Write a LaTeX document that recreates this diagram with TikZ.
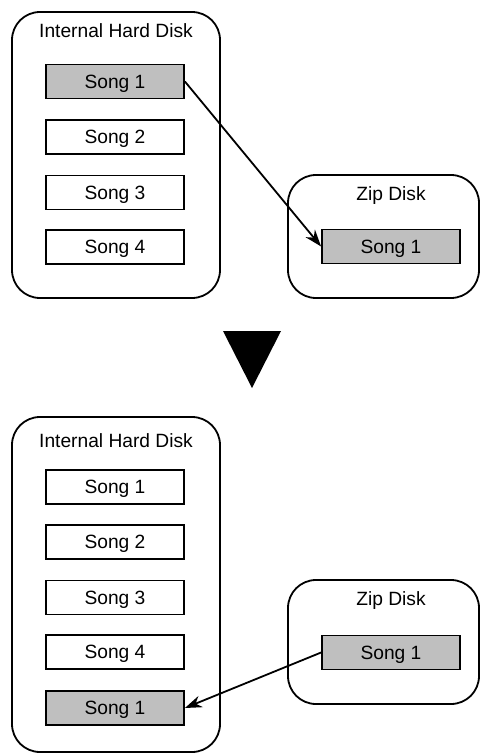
\documentclass[tikz,border=0pt]{standalone}
\usepackage{fontspec}
\setmainfont{Liberation Sans}
\usetikzlibrary{arrows.meta}
\begin{document}
\begin{tikzpicture}[x=1pt,y=-1pt,
  container/.style={draw,line width=1.8pt,rounded corners=28pt,inner sep=0pt},
  songbox/.style={draw,line width=1.8pt,minimum width=138pt,minimum height=34pt,inner sep=0pt,
    text height=13.7pt,text depth=0pt,font=\fontsize{19.2pt}{22pt}\selectfont},
  copied/.style={songbox,fill=black!25},
  title/.style={anchor=base,inner sep=0pt,font=\fontsize{19.2pt}{22pt}\selectfont},
  move/.style={line width=1.8pt,-{Stealth[length=17pt,width=12pt]}}]
\useasboundingbox (0,0) rectangle (485,754);
% top diagram
\node[container,minimum width=208pt,minimum height=286pt] (hd1) at (116,155) {};
\node[title] (hd1t) at (116,38) {Internal Hard Disk};
\node[copied] (a1) at (115,81.5) {Song 1};
\node[songbox] (a2) at (115,137) {Song 2};
\node[songbox] (a3) at (115,192.5) {Song 3};
\node[songbox] (a4) at (115,247) {Song 4};
\node[container,minimum width=191pt,minimum height=123pt] (zip1) at (383.5,236.5) {};
\node[title] (zip1t) at (391,200) {Zip Disk};
\node[copied] (z1) at (391,246.5) {Song 1};
\draw[move] (a1.east) -- (z1.west);
% down triangle
\fill (223,331) -- (281,331) -- (252,388) -- cycle;
% bottom diagram
\node[container,minimum width=208pt,minimum height=335pt] (hd2) at (116,584.5) {};
\node[title] (hd2t) at (116,447) {Internal Hard Disk};
\node[songbox] (b1) at (115,487) {Song 1};
\node[songbox] (b2) at (115,542) {Song 2};
\node[songbox] (b3) at (115,597.5) {Song 3};
\node[songbox] (b4) at (115,652) {Song 4};
\node[copied] (b5) at (115,708) {Song 1};
\node[container,minimum width=191pt,minimum height=124pt] (zip2) at (383.5,642) {};
\node[title] (zip2t) at (391,605) {Zip Disk};
\node[copied] (z2) at (391,652.5) {Song 1};
\draw[move] (z2.west) -- (b5.east);
\end{tikzpicture}
\end{document}
